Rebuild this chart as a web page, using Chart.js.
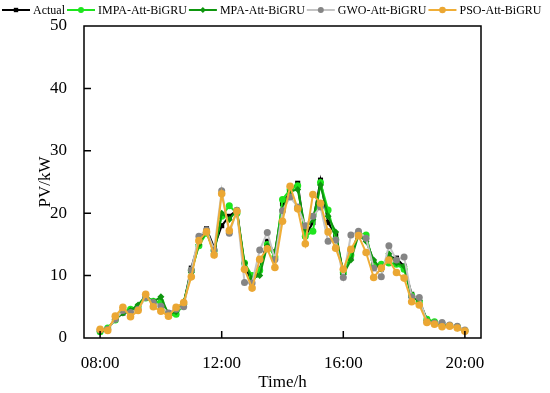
<!DOCTYPE html>
<html>
<head>
<meta charset="utf-8">
<script src="https://cdn.jsdelivr.net/npm/chart.js@4.4.1/dist/chart.umd.min.js"></script>
<style>
  html, body { margin: 0; padding: 0; background: #fff; }
  #wrap { width: 550px; height: 393px; }
</style>
</head>
<body>
<div id="wrap"><canvas id="chart" width="550" height="393"></canvas></div>
<script>
// ==== dados (passo de 15 min) ====
const times = [
  '08:00','08:15','08:30','08:45','09:00','09:15','09:30','09:45',
  '10:00','10:15','10:30','10:45','11:00','11:15','11:30','11:45',
  '12:00','12:15','12:30','12:45','13:00','13:15','13:30','13:45',
  '14:00','14:15','14:30','14:45','15:00','15:15','15:30','15:45',
  '16:00','16:15','16:30','16:45','17:00','17:15','17:30','17:45',
  '18:00','18:15','18:30','18:45','19:00','19:15','19:30','19:45','20:00'
];
const actual = [1.2,1.5,3.0,4.0,4.2,5.0,6.6,5.5,5.8,4.0,4.5,5.5,11.2,15.5,17.5,14.5,18.0,19.5,20.5,11.5,9.0,11.0,15.5,13.5,21.5,23.5,24.8,16.3,18.5,25.3,18.5,16.5,10.5,13.0,17.0,16.0,12.0,11.0,13.0,12.8,11.5,7.0,6.0,3.0,2.5,2.2,2.0,1.7,1.2];
const impa   = [1.0,1.6,2.9,4.2,4.6,5.1,6.4,5.9,5.7,3.6,3.8,5.4,10.8,14.8,16.8,14.0,19.5,21.2,20.0,12.0,10.0,10.8,15.0,13.0,22.2,23.8,24.4,16.3,17.1,24.9,20.5,15.8,10.5,13.3,16.8,16.5,11.5,11.8,12.0,11.8,11.0,6.8,5.8,3.0,2.6,2.3,2.0,1.8,1.2];
const mpa    = [1.0,1.4,3.0,4.0,4.4,5.3,6.8,5.8,6.6,3.8,4.2,5.8,10.5,15.0,17.2,13.5,20.0,19.0,20.5,12.0,9.5,10.0,14.8,13.8,20.5,23.5,23.8,17.5,19.0,24.5,19.5,17.0,10.2,12.5,16.5,15.5,12.5,11.0,13.5,12.0,11.5,6.5,6.0,2.8,2.4,2.2,2.0,1.6,1.1];
const gwo    = [1.3,1.4,3.0,4.4,4.1,4.6,6.5,5.7,5.1,4.0,4.6,5.0,10.9,16.3,17.3,14.1,23.6,16.8,20.4,8.9,8.8,14.1,16.9,12.6,20.4,22.6,21.0,18.0,19.5,21.0,15.5,15.7,9.7,16.5,17.1,16.0,11.2,9.8,14.8,12.5,13.0,6.6,6.5,2.6,2.4,2.5,2.1,1.9,1.3];
const pso    = [1.4,1.2,3.5,4.9,3.4,4.4,7.0,5.0,4.3,3.5,4.9,5.7,9.8,15.6,17.0,13.3,23.1,17.2,20.3,11.0,8.0,12.6,14.3,11.3,18.7,24.3,20.7,15.1,23.0,21.6,17.0,14.4,11.0,14.2,16.4,13.7,9.7,11.2,12.5,10.5,9.6,5.8,5.3,2.5,2.2,1.8,1.9,1.6,1.1];

const xTickHours = [8, 12, 16, 20];
const yTicks = [0, 10, 20, 30, 40, 50];

const FONT = '"Liberation Serif", "Times New Roman", serif';

function toHour(t){ const [h, m] = t.split(':').map(Number); return h + m / 60; }
function hhmm(v){ return String(Math.floor(v)).padStart(2, '0') + ':00'; }
const pts = arr => arr.map((v, i) => ({ x: toHour(times[i]), y: v }));

function serie(label, data, line, point, style, r, order){
  return {
    label, data: pts(data), order,
    borderColor: line, backgroundColor: point,
    pointBackgroundColor: point, pointBorderColor: point,
    pointStyle: style, pointRadius: r, pointBorderWidth: 0,
    borderWidth: 2, tension: 0
  };
}

// ==== legenda desenhada à mão (linha + marcador + texto) ====
const legendPlugin = {
  id: 'lineLegend',
  afterDraw(chart){
    const ctx = chart.ctx;
    ctx.save();
    ctx.font = '12px ' + FONT;
    ctx.textBaseline = 'middle';
    let x = 2;
    const y = 10;
    chart.data.datasets.forEach(ds => {
      ctx.strokeStyle = ds.borderColor;
      ctx.lineWidth = 2;
      ctx.beginPath(); ctx.moveTo(x, y); ctx.lineTo(x + 28, y); ctx.stroke();
      ctx.fillStyle = ds.pointBackgroundColor;
      Chart.helpers.drawPoint(ctx, { pointStyle: ds.pointStyle, radius: ds.pointRadius - 0.5, rotation: 0, borderWidth: 0 }, x + 14, y);
      ctx.fillStyle = '#000';
      ctx.fillText(ds.label, x + 31, y + 1);
      x += 31 + ctx.measureText(ds.label).width + 2;
    });
    ctx.restore();
  }
};

// ==== moldura e ticks para dentro ====
const framePlugin = {
  id: 'frame',
  afterDraw(chart){
    const { ctx, chartArea: a, scales } = chart;
    ctx.save();
    ctx.strokeStyle = '#000';
    ctx.lineWidth = 1.5;
    ctx.strokeRect(a.left, a.top, a.right - a.left, a.bottom - a.top);
    ctx.beginPath();
    yTicks.slice(1, -1).forEach(v => {
      const py = scales.y.getPixelForValue(v);
      ctx.moveTo(a.left, py); ctx.lineTo(a.left + 7, py);
    });
    xTickHours.forEach(v => {
      const px = scales.x.getPixelForValue(v);
      ctx.moveTo(px, a.bottom); ctx.lineTo(px, a.bottom - 7);
    });
    ctx.stroke();
    ctx.restore();
  }
};

new Chart(document.getElementById('chart'), {
  type: 'line',
  data: {
    datasets: [
      serie('Actual',         actual, '#000000', '#000000', 'rect',    3.6, 5),
      serie('IMPA-Att-BiGRU', impa,   '#1ee51e', '#1ee51e', 'circle',  3.5, 4),
      serie('MPA-Att-BiGRU',  mpa,    '#0e960e', '#0e960e', 'rectRot', 3.5, 3),
      serie('GWO-Att-BiGRU',  gwo,    '#c4c4c4', '#858585', 'circle',  3.5, 2),
      serie('PSO-Att-BiGRU',  pso,    '#f0ae37', '#eba733', 'circle',  3.8, 1)
    ]
  },
  options: {
    responsive: false,
    animation: false,
    layout: { padding: { top: 26, right: 69, left: 0, bottom: 0 } },
    plugins: { legend: { display: false }, tooltip: { enabled: false } },
    scales: {
      x: {
        type: 'linear', min: 7.47, max: 20.53,
        afterBuildTicks: s => { s.ticks = xTickHours.map(v => ({ value: v })); },
        afterFit: s => { s.height = 55; },
        grid: { display: false },
        border: { display: false },
        ticks: { callback: v => hhmm(v), color: '#000', font: { family: FONT, size: 17 }, padding: 7, maxRotation: 0 },
        title: { display: true, text: 'Time/h', color: '#000', font: { family: FONT, size: 17 }, padding: { top: 0, bottom: 0 } }
      },
      y: {
        min: 0, max: 50,
        afterBuildTicks: s => { s.ticks = yTicks.map(v => ({ value: v })); },
        afterFit: s => { s.width = 84; },
        grid: { display: false },
        border: { display: false },
        ticks: { color: '#000', font: { family: FONT, size: 17 }, padding: 9 },
        title: { display: true, text: 'PV/kW', color: '#000', font: { family: FONT, size: 17 }, padding: { top: 35, bottom: 0 } }
      }
    }
  },
  plugins: [legendPlugin, framePlugin]
});
</script>
</body>
</html>
